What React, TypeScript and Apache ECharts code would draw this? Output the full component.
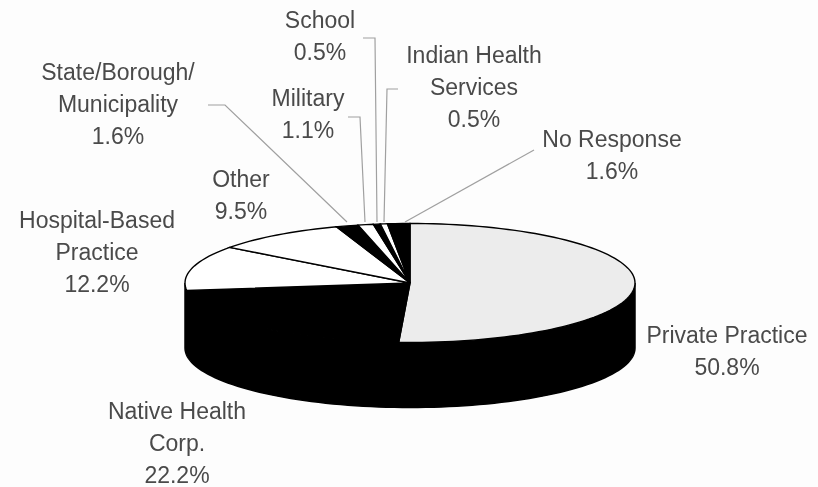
import React, { useEffect, useRef } from "react";
import * as echarts from "echarts";

const categories = ["Private Practice", "Native Health\nCorp.", "Hospital-Based\nPractice", "Other", "State/Borough/\nMunicipality", "Military", "School", "Indian Health\nServices", "No Response"];
const shares = [50.8, 22.2, 12.2, 9.5, 1.6, 1.1, 0.5, 0.5, 1.6];
const fills = ["#ececec", "#000000", "#ffffff", "#ffffff", "#000000", "#ffffff", "#000000", "#ffffff", "#000000"];
const labelCentres = [[727, 351], [177, 443], [97, 252], [241, 195], [118, 104], [308, 114], [320, 36], [474, 87], [612, 155]];
const leaders = [
  [[208, 105], [225, 105], [347, 222]],
  [[348, 117], [360, 117], [365, 222]],
  [[363, 38], [375, 38], [377, 222]],
  [[398, 89], [387, 89], [384, 222]],
  [[405, 222], [534, 150]],
];

const CX = 410, CY = 283, RX = 225, RY = 59.5, DEPTH = 65;
const total = shares.reduce((a, b) => a + b, 0);
const pt = (deg: number, dy = 0) => {
  const r = (deg * Math.PI) / 180;
  return [CX + RX * Math.sin(r), CY - RY * Math.cos(r) + dy];
};

export default function App() {
  const ref = useRef<HTMLDivElement>(null);
  useEffect(() => {
    document.body.style.margin = "0";
    const chart = echarts.init(ref.current!, null, { renderer: "svg" });
    const startOf = (i: number) => shares.slice(0, i).reduce((a, b) => a + b, 0);
    const option: any = {
      animation: false,
      backgroundColor: "#fdfdfd",
      series: [
        {
          type: "custom",
          coordinateSystem: "none",
          silent: true,
          z: 1,
          data: [[1]],
          renderItem: () => {
            const pts: number[][] = [];
            for (let a = 90; a <= 270; a += 2) pts.push(pt(a, 0));
            for (let a = 270; a >= 90; a -= 2) pts.push(pt(a, DEPTH));
            return { type: "polygon", shape: { points: pts }, style: { fill: "#000", stroke: "#000", lineWidth: 1.5 } };
          },
        },
        {
          type: "custom",
          coordinateSystem: "none",
          silent: true,
          z: 2,
          data: shares.map((v, i) => [i, v]),
          renderItem: (_p: any, api: any) => {
            const i = api.value(0);
            const a0 = (startOf(i) / total) * 360;
            const a1 = a0 + (api.value(1) / total) * 360;
            const pts = [[CX, CY]];
            const steps = Math.max(2, Math.ceil((a1 - a0) / 2));
            for (let s = 0; s <= steps; s++) pts.push(pt(a0 + ((a1 - a0) * s) / steps));
            return { type: "polygon", shape: { points: pts }, style: { fill: fills[i], stroke: "#000", lineWidth: 1.4 } };
          },
        },
      ],
      graphic: [
        ...leaders.map((points) => ({
          type: "polyline",
          shape: { points },
          style: { fill: "none", stroke: "#a0a0a0", lineWidth: 1.2 },
          z: 5,
        })),
        ...categories.map((c, i) => ({
          type: "text",
          x: labelCentres[i][0],
          y: labelCentres[i][1],
          z: 6,
          style: {
            text: `${c}\n${shares[i].toFixed(1)}%`,
            fill: "#4a4a4a",
            font: '23px "Liberation Sans", Arial, sans-serif',
            lineHeight: 32,
            textAlign: "center",
            textVerticalAlign: "middle",
          },
        })),
      ],
    };
    chart.setOption(option);
    return () => chart.dispose();
  }, []);
  return <div ref={ref} style={{ width: 818, height: 487, filter: "blur(0.5px)" }} />;
}
